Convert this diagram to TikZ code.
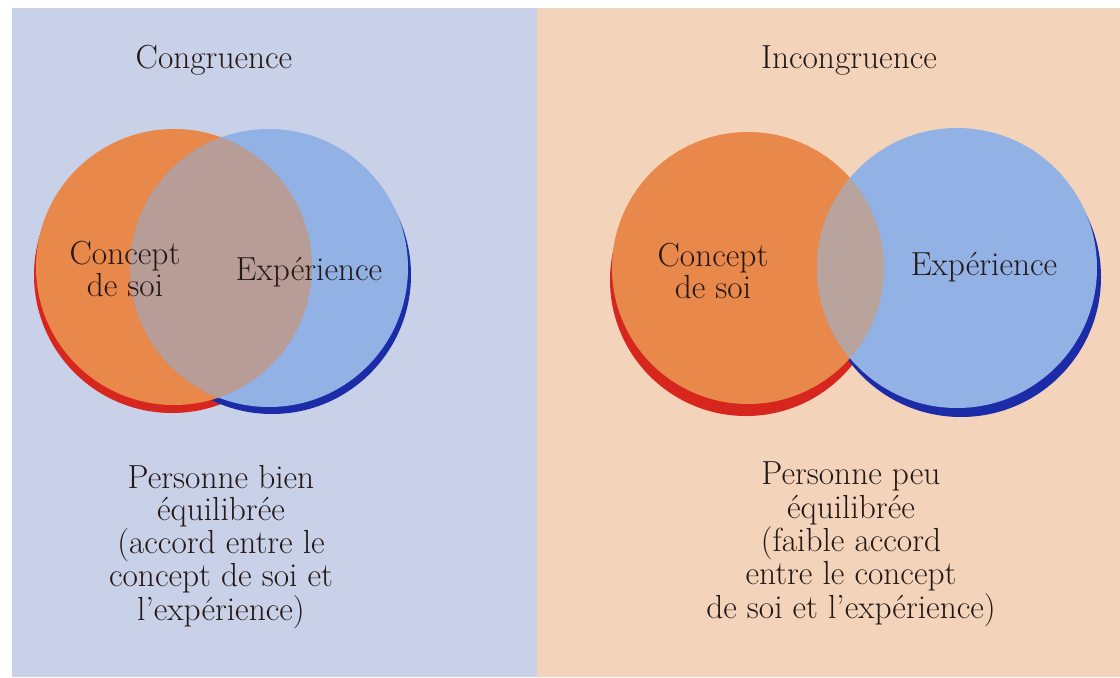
\documentclass[tikz,border=0pt]{standalone}
\usepackage{tikz}
\definecolor{bgleft}{HTML}{C8D1E7}
\definecolor{bgright}{HTML}{F3D4BB}
\definecolor{soiorange}{HTML}{E8884B}
\definecolor{expblue}{HTML}{92B1E5}
\definecolor{lensleft}{HTML}{B79C98}
\definecolor{lensright}{HTML}{B8A39D}
\definecolor{soired}{HTML}{D6261D}
\definecolor{expdark}{HTML}{1C2CA8}
\definecolor{ink}{HTML}{241816}

\begin{document}
\begin{tikzpicture}[x=0.02cm, y=-0.02cm,
    lbl/.style={font=\fontsize{19}{16.8}\selectfont, text=ink, align=center, inner sep=0pt, anchor=base}]
\useasboundingbox (0,0) rectangle (1120,677);
\fill[white] (0,0) rectangle (1120,677);
\fill[bgleft] (12,8) rectangle (537,677);
\fill[bgright] (537,8) rectangle (1120,677);

% congruence
\fill[soired] (172,275) circle (138);
\fill[expdark] (272,275) circle (139);
\fill[soiorange] (174,267) circle (138);
\fill[expblue] (269,268) circle (139);
\begin{scope}
    \clip (174,267) circle (138);
    \fill[lensleft] (269,268) circle (139);
\end{scope}

% incongruence
\fill[soired] (746,280) circle (136);
\fill[expdark] (961,277) circle (140);
\fill[soiorange] (748,268) circle (136);
\fill[expblue] (957,268) circle (140);
\begin{scope}
    \clip (748,268) circle (136);
    \fill[lensright] (957,268) circle (140);
\end{scope}

\node[lbl] (titleL) at (214,68) {Congruence};
\node[lbl] (titleR) at (849,68) {Incongruence};

\node[lbl] (soiL) at (125,296) {Concept\\de soi};
\node[lbl] (expL) at (309,280) {Expérience};
\node[lbl] (soiR) at (713,298) {Concept\\de soi};
\node[lbl] (expR) at (984,275) {Expérience};

\node[lbl] (noteL) at (221,620) {Personne bien\\[1.5pt]équilibrée\\(accord entre le\\concept de soi et\\l'expérience)};
\node[lbl] (noteR) at (851,618) {Personne peu\\[1.5pt]équilibrée\\(faible accord\\entre le concept\\de soi et l'expérience)};
\end{tikzpicture}
\end{document}
